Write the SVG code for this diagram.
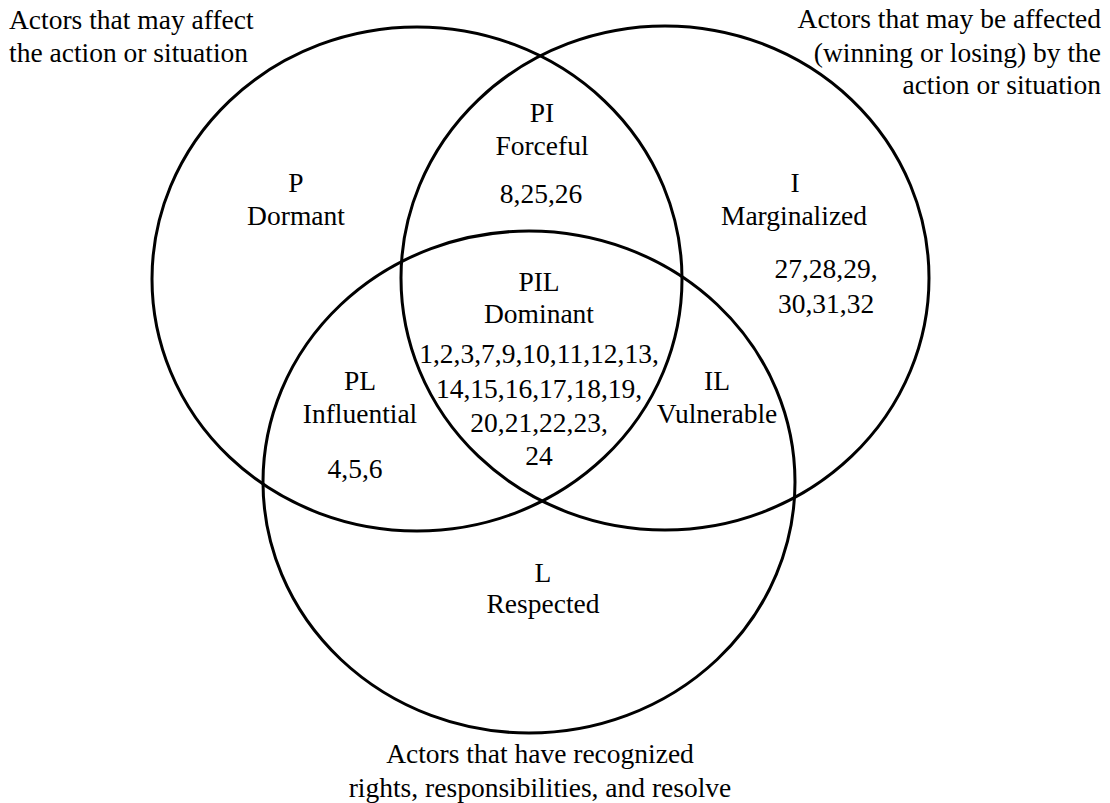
<svg xmlns="http://www.w3.org/2000/svg" width="1110" height="803" viewBox="0 0 1110 803">
<style>
text{font-family:'Liberation Serif','Times New Roman',serif;font-size:27.5px;fill:#000}
.cap{font-size:28px}
.c{text-anchor:middle}
.r{text-anchor:end}
.ring{fill:none;stroke:#000;stroke-width:3}
</style>
<rect width="1110" height="803" fill="#fff"/>
<g id="circles">
<ellipse id="circle-P" class="ring" cx="417" cy="279" rx="265" ry="252"/>
<ellipse id="circle-I" class="ring" cx="665" cy="278" rx="264" ry="252"/>
<ellipse id="circle-L" class="ring" cx="529" cy="482" rx="266" ry="251"/>
</g>
<g id="caption-P" class="cap"><text x="9" y="29">Actors that may affect</text><text x="9" y="62">the action or situation</text></g>
<g id="caption-I" class="cap"><text class="r" x="1101" y="28">Actors that may be affected</text><text class="r" x="1101" y="62">(winning or losing) by the </text><text class="r" x="1101" y="94">action or situation</text></g>
<g id="caption-L" class="cap"><text class="c" x="540" y="763">Actors that have recognized</text><text class="c" x="540" y="797">rights, responsibilities, and resolve</text></g>
<g id="node-P"><text class="c" x="296" y="192">P</text><text class="c" x="296" y="225">Dormant</text></g>
<g id="node-PI"><text class="c" x="542" y="122">PI</text><text class="c" x="542" y="155">Forceful</text><text class="c" x="541" y="203">8,25,26</text></g>
<g id="node-I"><text class="c" x="795" y="192">I</text><text class="c" x="794" y="225">Marginalized</text><text class="c" x="826" y="278">27,28,29,</text><text class="c" x="826" y="313">30,31,32</text></g>
<g id="node-PIL"><text class="c" x="539" y="291">PIL</text><text class="c" x="539" y="323">Dominant</text><text class="c" x="539" y="363">1,2,3,7,9,10,11,12,13,</text><text class="c" x="539" y="398">14,15,16,17,18,19,</text><text class="c" x="539" y="432">20,21,22,23,</text><text class="c" x="539" y="465">24</text></g>
<g id="node-PL"><text class="c" x="360" y="390">PL</text><text class="c" x="360" y="423">Influential</text><text class="c" x="355" y="478">4,5,6</text></g>
<g id="node-IL"><text class="c" x="717" y="390">IL</text><text class="c" x="717" y="423">Vulnerable</text></g>
<g id="node-L"><text class="c" x="543" y="582">L</text><text class="c" x="543" y="613">Respected</text></g>
</svg>
